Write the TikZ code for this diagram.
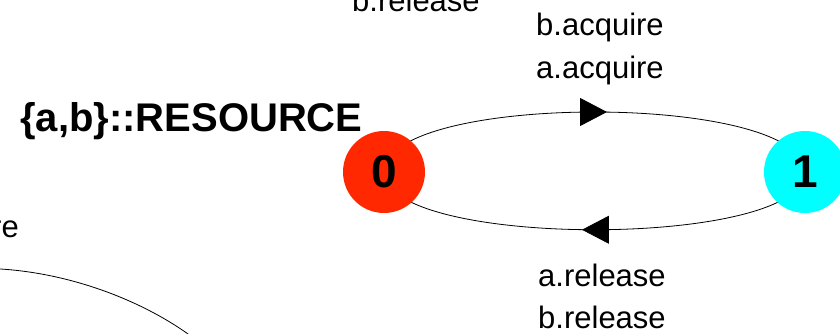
\documentclass[tikz,border=0pt]{standalone}
\usepackage{fontspec}
\setmainfont{Liberation Sans}
\usetikzlibrary{arrows.meta,decorations.markings,backgrounds}
\definecolor{stred}{RGB}{255,40,0}
\definecolor{stcyan}{RGB}{0,255,255}
\tikzset{
  state/.style={circle, minimum size=82pt, inner sep=0pt, font=\fontsize{46}{46}\selectfont\bfseries},
  lbl/.style={anchor=base west, inner sep=0pt, font=\fontsize{31}{37}\selectfont},
  trans/.style={line width=0.8pt, postaction={decorate},
    decoration={markings, mark=at position 0.5 with {\arrow[xshift=12.5pt]{Triangle[length=27pt,width=28pt]}}}}
}
\begin{document}
\begin{tikzpicture}[x=1pt,y=1pt]
  \useasboundingbox (0,0) rectangle (840,333);
  \clip (0,0) rectangle (840,333);
  \node [state, fill=stred] (s0) at (384,161) {0};
  \node [state, fill=stcyan] (s1) at (805,161) {1};
  \node [anchor=base west, inner sep=0pt, font=\fontsize{40}{48}\selectfont\bfseries] (name) at (20,202) {\{a,b\}::RESOURCE};
  \node [lbl] (acqb) at (536,298) {b.acquire};
  \node [lbl] (acqa) at (536,255) {a.acquire};
  \node [lbl] (rela) at (538,47) {a.release};
  \node [lbl] (relb) at (538,5) {b.release};
  \node [lbl] (reltop) at (352,321) {b.release};
  \node [lbl, anchor=base east] (acqcut) at (19,96) {re};
  \begin{scope}[on background layer]
    \draw [trans] (s0.center) .. controls +(0,80) and +(0,80) .. (s1.center);
    \draw [trans] (s1.center) .. controls +(0,-77) and +(0,-77) .. (s0.center);
  \end{scope}
  % arc of the next machine, cut at the edge
  \coordinate (c1) at (-10,64.5);
  \coordinate (c2) at (200,-10);
  \draw [line width=0.8pt] (c1) .. controls (70,62) and (150,30) .. (c2);
\end{tikzpicture}
\end{document}
